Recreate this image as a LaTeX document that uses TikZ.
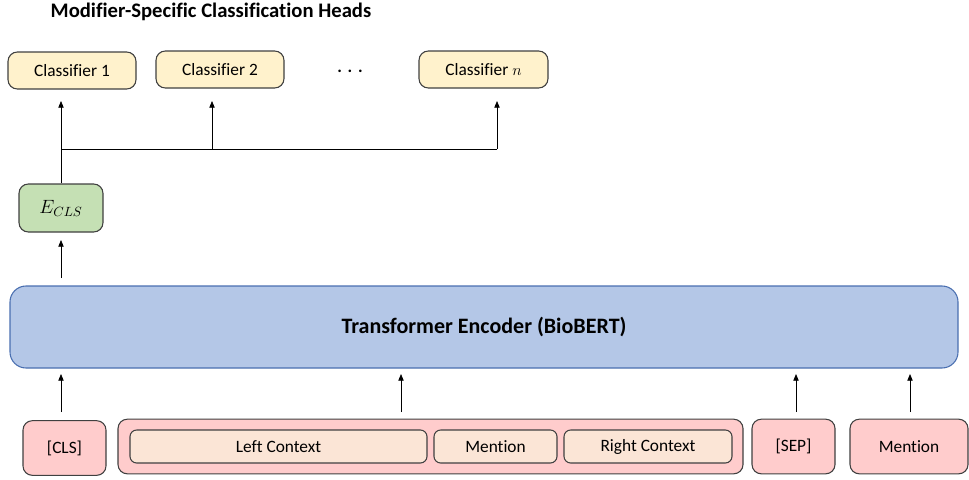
\documentclass[tikz,border=0pt]{standalone}
\usepackage{fontspec}
\setmainfont{Carlito}[Ligatures=NoCommon]
\usetikzlibrary{arrows.meta}
\definecolor{clsY}{HTML}{FFF2CC}
\definecolor{eG}{HTML}{C5E0B4}
\definecolor{encB}{HTML}{B4C7E7}
\definecolor{encD}{HTML}{4A6FB0}
\definecolor{tokP}{HTML}{FFCCCC}
\definecolor{subP}{HTML}{FBE5D6}
\definecolor{edge}{HTML}{404040}
\tikzset{
  box/.style={draw=edge, line width=0.8pt, rounded corners=7pt, inner sep=0pt, font=\fontsize{13}{15}\selectfont},
  clsbox/.style={box, fill=clsY, minimum width=96pt, minimum height=27.75pt},
  tokbox/.style={box, fill=tokP, minimum height=41pt},
  subbox/.style={box, fill=subP, minimum height=24.75pt, rounded corners=5pt},
  arr/.style={-{Triangle[length=5pt,width=4pt]}, line width=0.6pt, black},
  ln/.style={line width=0.6pt, black}
}
\begin{document}
\begin{tikzpicture}[x=0.75pt,y=-0.75pt]
\useasboundingbox (0,0) rectangle (969,479);
\node[font=\bfseries\fontsize{15.5}{18}\selectfont] (title) at (211,12) {Modifier-Specific Classification Heads};
\node[clsbox] (c1) at (72,70.5) {Classifier 1};
\node[clsbox] (c2) at (220,69.5) {Classifier 2};
\node[clsbox, minimum width=96.75pt] (cn) at (483.5,69.5) {Classifier $n$};
\node[inner sep=0pt, font=\bfseries\fontsize{13}{15}\selectfont] (dots) at (350,71) {.\hspace{4.3pt}.\hspace{4.3pt}.};
\node[box, fill=eG, minimum width=63pt, minimum height=36pt, font=\fontsize{14}{16}\selectfont] (ecls) at (61,208) {$E_{CLS}$};
\node[box, draw=encD, fill=encB, rounded corners=12pt, minimum width=711pt, minimum height=61.5pt, font=\bfseries\fontsize{16.5}{19}\selectfont] (enc) at (484,327) {Transformer Encoder (BioBERT)};
\node[tokbox, minimum width=62.25pt] (tcls) at (64.5,448) {[CLS]};
\node[tokbox, minimum width=468.75pt] (ctx) at (430.5,446.5) {};
\node[subbox, minimum width=222.75pt] (left) at (278.5,446.5) {Left Context};
\node[subbox, minimum width=92.25pt] (m1) at (495.5,446.5) {Mention};
\node[subbox, minimum width=126pt] (right) at (648,446.5) {Right Context};
\node[tokbox, minimum width=62.25pt] (sep) at (793.5,446.5) {[SEP]};
\node[tokbox, minimum width=88.5pt] (m2) at (909,446.5) {Mention};
% coordinates
\coordinate (t1) at (61,101);
\coordinate (t2) at (212,101);
\coordinate (tn) at (497,101);
\coordinate (j1) at (61,149);
\coordinate (j2) at (212,149);
\coordinate (jn) at (497,149);
\coordinate (eb) at (61,278);
\coordinate (et) at (61,240);
\coordinate (b1) at (61,412);  \coordinate (u1) at (61,374);
\coordinate (b2) at (401,412); \coordinate (u2) at (401,374);
\coordinate (b3) at (796,412); \coordinate (u3) at (796,374);
\coordinate (b4) at (910,412); \coordinate (u4) at (910,374);
% connectors
\draw[arr] (ecls.north) -- (t1);
\draw[ln] (j1) -- (jn);
\draw[arr] (j2) -- (t2);
\draw[arr] (jn) -- (tn);
\draw[arr] (eb) -- (et);
\draw[arr] (b1) -- (u1);
\draw[arr] (b2) -- (u2);
\draw[arr] (b3) -- (u3);
\draw[arr] (b4) -- (u4);
\end{tikzpicture}
\end{document}
